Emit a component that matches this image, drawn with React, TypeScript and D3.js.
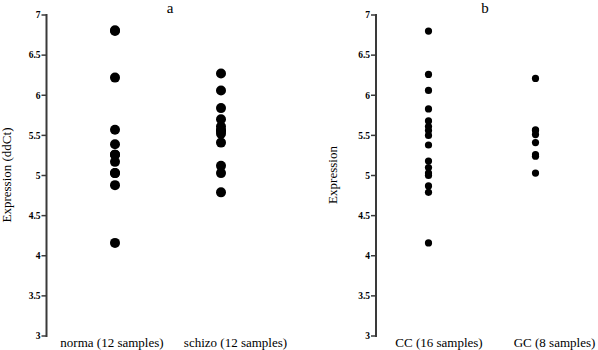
import React from "react";
import * as d3 from "d3";

const yTicks = [3, 3.5, 4, 4.5, 5, 5.5, 6, 6.5, 7];
const tickLabels = ["3", "3.5", "4", "4.5", "5", "5.5", "6", "6.5", "7"];

const groupsA = ["norma (12 samples)", "schizo (12 samples)"];
const normaValues = [6.81, 6.8, 6.22, 5.57, 5.39, 5.26, 5.17, 5.03, 5.03, 4.88, 4.16, 5.26];
const schizoValues = [6.27, 6.06, 5.84, 5.7, 5.61, 5.56, 5.52, 5.41, 5.12, 5.03, 4.79, 5.56];

const groupsB = ["CC (16 samples)", "GC (8 samples)"];
const ccValues = [6.8, 6.26, 6.06, 5.83, 5.68, 5.61, 5.56, 5.5, 5.38, 5.18, 5.1, 5.03, 5.0, 4.87, 4.79, 4.16];
const gcValues = [6.21, 5.57, 5.51, 5.41, 5.26, 5.24, 5.03, 5.56];

const FONT = "Liberation Serif, Times New Roman, serif";

type PanelProps = {
  title: string;
  yTitle: string;
  groups: string[];
  values: number[][];
  axisX: number;
  dotRange: [number, number];
  labelRange: [number, number];
  titleX: number;
  yTitleX: number;
  r: number;
};

function Panel(p: PanelProps) {
  const y = d3.scaleLinear().domain([3, 7]).range([336, 15]);
  const xDot = d3.scalePoint<string>().domain(p.groups).range(p.dotRange);
  const xLab = d3.scalePoint<string>().domain(p.groups).range(p.labelRange);
  return (
    <g>
      <text x={p.titleX} y={13} fontFamily={FONT} fontSize={15} textAnchor="middle" fill="#000">
        {p.title}
      </text>
      <text
        transform={`translate(${p.yTitleX},175) rotate(-90)`}
        fontFamily={FONT}
        fontSize={13}
        textAnchor="middle"
        fill="#000"
      >
        {p.yTitle}
      </text>
      <line x1={p.axisX} x2={p.axisX} y1={y(7) - 1} y2={y(3) + 1} stroke="#3a3a3a" strokeWidth={2} />
      {yTicks.map((t, i) => (
        <g key={t}>
          <line x1={p.axisX - 5} x2={p.axisX} y1={y(t)} y2={y(t)} stroke="#3a3a3a" strokeWidth={1.5} />
          <text
            x={p.axisX - 6}
            y={y(t)}
            dy="0.35em"
            fontFamily={FONT}
            fontSize={9.5}
            fontWeight="bold"
            textAnchor="end"
            fill="#000"
          >
            {tickLabels[i]}
          </text>
        </g>
      ))}
      {p.groups.map((g, gi) => (
        <g key={g}>
          {p.values[gi].map((v, i) => (
            <circle key={i} cx={xDot(g)} cy={y(v)} r={p.r} fill="#000" />
          ))}
          <text
            x={xLab(g)}
            y={347}
            fontFamily={FONT}
            fontSize={13}
            textAnchor="middle"
            fill="#000"
          >
            {g}
          </text>
        </g>
      ))}
    </g>
  );
}

export default function App() {
  return (
    <svg width={598} height={350} style={{ position: "absolute", left: 0, top: 0, background: "#fff" }}>
      <Panel
        title="a"
        yTitle="Expression (ddCt)"
        groups={groupsA}
        values={[normaValues, schizoValues]}
        axisX={46.5}
        dotRange={[115, 221]}
        labelRange={[112, 235.5]}
        titleX={170}
        yTitleX={11}
        r={5}
      />
      <Panel
        title="b"
        yTitle="Expression"
        groups={groupsB}
        values={[ccValues, gcValues]}
        axisX={376}
        dotRange={[428.5, 535.5]}
        labelRange={[439, 554.5]}
        titleX={485}
        yTitleX={337}
        r={3.6}
      />
    </svg>
  );
}
